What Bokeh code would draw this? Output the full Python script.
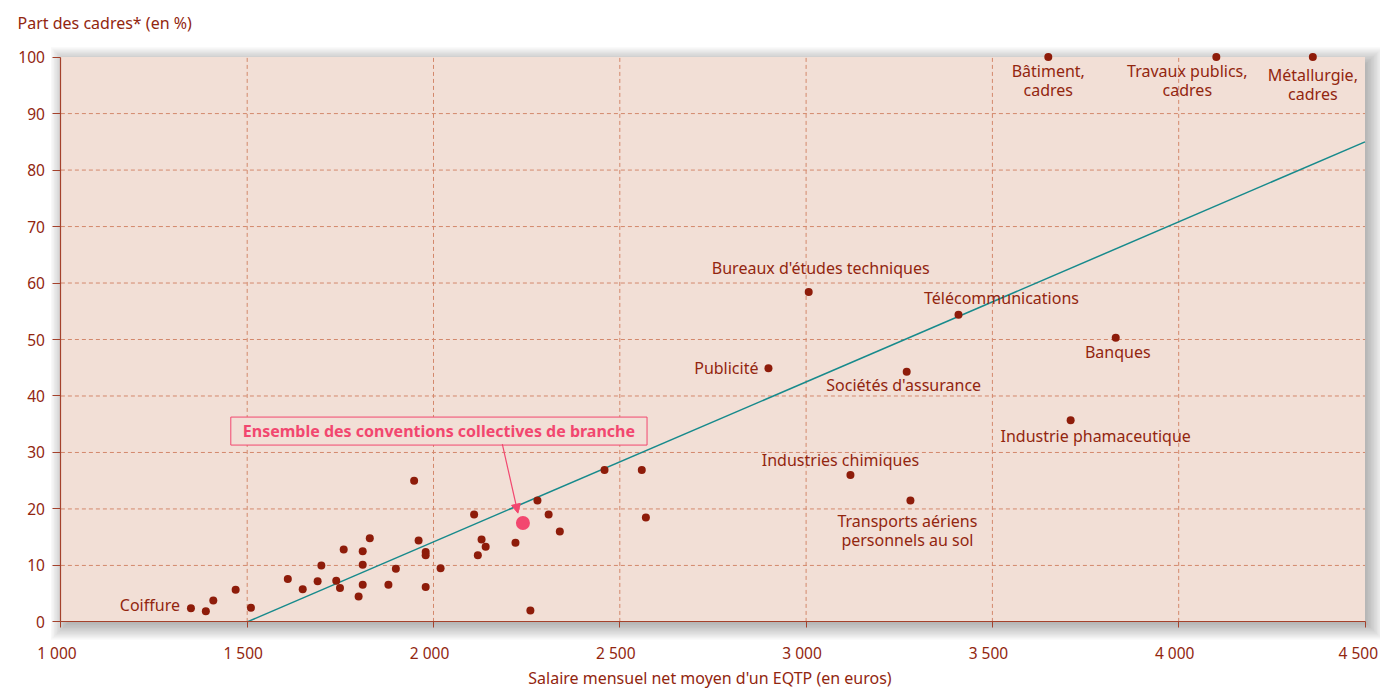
import numpy as np
from bokeh.plotting import figure
from bokeh.models import (Range1d, FixedTicker, Label, Arrow, NormalHead)
from bokeh.core.properties import value
from bokeh.embed import file_html
from bokeh.resources import INLINE

# ---------------- data ----------------
branch_salary = [1389, 1409, 1469, 1510, 1609, 1649, 1689, 1699, 1739, 1749,
                 1759, 1799, 1810, 1810, 1810, 1829, 1879, 1899, 1948, 1960,
                 1979, 1979, 1979, 2019, 2109, 2129, 2140, 2119, 2220, 2279,
                 2309, 2339, 2260, 2459, 2559, 2570]
branch_cadres = [1.9, 3.8, 5.7, 2.5, 7.6, 5.8, 7.2, 10.0, 7.3, 6.0,
                 12.8, 4.5, 6.6, 10.1, 12.5, 14.8, 6.6, 9.4, 25.0, 14.4,
                 12.4, 11.8, 6.2, 9.5, 19.0, 14.6, 13.3, 11.8, 14.0, 21.5,
                 19.0, 16.0, 2.0, 26.9, 26.9, 18.5]

named_branches = ["Coiffure", "Publicité", "Bureaux d'études techniques",
                  "Télécommunications", "Sociétés d'assurance", "Banques",
                  "Industrie phamaceutique", "Industries chimiques",
                  "Transports aériens\npersonnels au sol",
                  "Bâtiment,\ncadres", "Travaux publics,\ncadres",
                  "Métallurgie,\ncadres"]
named_salary = [1349, 2899, 3007, 3409, 3270, 3831, 3710, 3119, 3280,
                3650, 4101, 4360]
named_cadres = [2.4, 44.9, 58.4, 54.4, 44.3, 50.3, 35.7, 26.0, 21.5,
                100, 100, 100]

ensemble_label = "Ensemble des conventions collectives de branche"
ensemble_salary = 2240
ensemble_cadres = 17.5

trend_salary = [1500, 4500]
trend_cadres = [0, 85]

x_ticks = [1000, 1500, 2000, 2500, 3000, 3500, 4000, 4500]
x_tick_labels = ["1 000", "1 500", "2 000", "2 500", "3 000", "3 500",
                 "4 000", "4 500"]
y_ticks = [0, 10, 20, 30, 40, 50, 60, 70, 80, 90, 100]
y_tick_labels = ["0", "10", "20", "30", "40", "50", "60", "70", "80", "90",
                 "100"]

title_text = "Part des cadres* (en %)"
x_title = "Salaire mensuel net moyen d'un EQTP (en euros)"

# ---------------- styles / layout ----------------
FONT = "Noto Sans"
FS = "16px"
DARK = "#8E1C0A"
TXT = "#92260F"
AXIS = "#A4422C"
GRID = "#D3886C"
BG = "#F2DFD6"
PINK = "#F2476F"
TEAL = "#178A8C"

W, H = 1380, 688
TOP = 38
PX_X = 186.3 / 500.0    # px per euro
PX_Y = 56.83 / 10.0     # px per percent
AX_LEFT_PX = 60.4       # page x of the y axis
Y100_PX = 52.7          # page y of the 100 % line
frame_h = H - TOP
x0, x1 = x_ticks[0], x_ticks[-1]
y0, y1 = y_ticks[0], y_ticks[-1]
x_start = x0 - AX_LEFT_PX / PX_X
x_end = x_start + W / PX_X
y_end = y1 + (Y100_PX - TOP) / PX_Y
y_start = y_end - frame_h / PX_Y

p = figure(width=W, height=H, output_backend="svg", toolbar_location=None,
           x_range=Range1d(x_start, x_end), y_range=Range1d(y_start, y_end),
           min_border_left=0, min_border_right=0, min_border_top=TOP,
           min_border_bottom=0, background_fill_color="white",
           border_fill_color="white", outline_line_color=None)
p.xgrid.visible = False
p.ygrid.visible = False

# title
p.title.text = title_text
p.title.text_font = FONT
p.title.text_font_size = FS
p.title.text_font_style = "normal"
p.title.text_color = TXT
p.title.align = "left"
p.title.offset = 17
p.title.standoff = 18

# drop shadow (decoration)
sdx, sdy = 4, 4
for e in np.arange(-4, 15, 1.5):
    p.quad(left=x0 + (sdx - e) / PX_X, right=x1 + (sdx + e) / PX_X,
           bottom=y0 - (sdy + e) / PX_Y, top=y1 - (sdy - e) / PX_Y,
           fill_color="#2c313c", fill_alpha=0.034, line_color=None)

# plot background
p.quad(left=x0, right=x1, bottom=y0, top=y1, fill_color=BG, line_color=None)

# grid
gx = x_ticks[1:-1]
gy = y_ticks[1:-1]
p.segment(x0=gx, y0=[y0] * len(gx), x1=gx, y1=[y1] * len(gx),
          line_color=GRID, line_dash="4 3", line_width=1)
p.segment(x0=[x0] * len(gy), y0=gy, x1=[x1] * len(gy), y1=gy,
          line_color=GRID, line_dash="4 3", line_width=1)

# trend line
p.line(trend_salary, trend_cadres, line_color=TEAL, line_width=1.5)

# points
p.scatter(branch_salary, branch_cadres, size=8, fill_color=DARK, line_color=None)
p.scatter(named_salary, named_cadres, size=8, fill_color=DARK, line_color=None)
p.scatter([ensemble_salary], [ensemble_cadres], size=14, fill_color=PINK,
          line_color=None)

# labels
dx = [-11, -10, 12, 43, -3, 2, 25, -10, -3, 0, -29, 0]
dy = [-3, 0, -24, -17, 13, 14, 16, -15, 10, 3, 3, 7]
align = ["right", "right", "center", "center", "center", "center", "center",
         "center", "center", "center", "center", "center"]
base = ["middle"] * 8 + ["top"] * 4
for i in range(len(named_branches)):
    p.text(x=[named_salary[i]], y=[named_cadres[i]], text=[named_branches[i]],
           x_offset=dx[i], y_offset=dy[i], text_align=align[i],
           text_baseline=base[i], text_font=value(FONT),
           text_font_size=FS, text_color=TXT, text_line_height=0.85)

# ensemble call-out
lab = Label(x=ensemble_salary, y=ensemble_cadres, x_offset=-84, y_offset=92,
            text=ensemble_label, text_align="center", text_baseline="middle",
            text_font=FONT, text_font_size=FS, text_font_style="bold",
            text_color=PINK, border_line_color=PINK, border_line_width=1,
            background_fill_color=BG, padding=(12, 3))
p.add_layout(lab)
arr = Arrow(end=NormalHead(size=9, fill_color=PINK, line_color=PINK),
            x_start=ensemble_salary - 20.6 / PX_X,
            y_start=ensemble_cadres + 79.4 / PX_Y,
            x_end=ensemble_salary - 5 / PX_X,
            y_end=ensemble_cadres + 10 / PX_Y,
            line_color=PINK, line_width=1.2)
p.add_layout(arr)

# axes (rule and ticks drawn by Bokeh axes pinned to the data origin)
xa = p.xaxis[0]
xa.fixed_location = y0
xa.bounds = (x0, x1)
xa.ticker = FixedTicker(ticks=x_ticks)
xa.major_tick_out = 6
ya = p.yaxis[0]
ya.fixed_location = x0
ya.bounds = (y0, y1)
ya.ticker = FixedTicker(ticks=y_ticks)
ya.major_tick_out = 8
for ax in (xa, ya):
    ax.axis_line_color = AXIS
    ax.axis_line_width = 1.2
    ax.major_tick_line_color = AXIS
    ax.major_tick_in = 0
    ax.minor_tick_line_color = None
    ax.major_label_text_color = None
    ax.axis_label = None

# tick labels and x title, placed next to the axis lines
p.text(x=x_ticks[:-1], y=[y0] * (len(x_ticks) - 1), text=x_tick_labels[:-1],
       x_offset=-4, y_offset=31, text_align="center", text_baseline="middle",
       text_font=value(FONT), text_font_size="15.5px", text_color=TXT)
p.text(x=x_ticks[-1:], y=[y0], text=x_tick_labels[-1:],
       x_offset=13, y_offset=31, text_align="right", text_baseline="middle",
       text_font=value(FONT), text_font_size="15.5px", text_color=TXT)
p.text(x=[x0] * len(y_ticks), y=y_ticks, text=y_tick_labels, x_offset=-16,
       text_align="right", text_baseline="middle",
       text_font=value(FONT), text_font_size="15.5px", text_color=TXT)
p.text(x=[(x0 + x1) / 2], y=[y0], text=[x_title], x_offset=-3, y_offset=56,
       text_align="center", text_baseline="middle", text_font=value(FONT),
       text_font_size=FS, text_color=TXT)

open("out.html", "w").write(file_html(p, INLINE))
